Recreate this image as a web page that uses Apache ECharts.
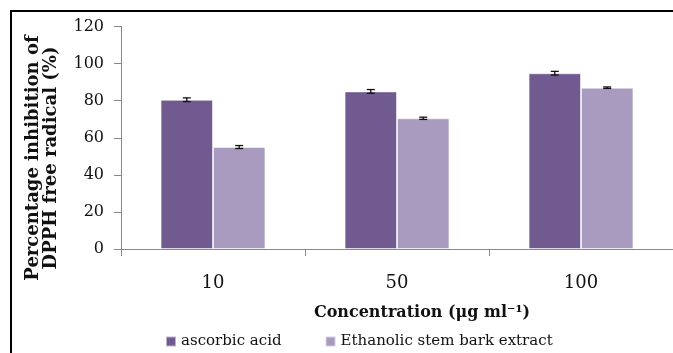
<!DOCTYPE html>
<html>
<head>
<meta charset="utf-8">
<script src="https://cdn.jsdelivr.net/npm/echarts@6/dist/echarts.min.js"></script>
<style>html,body{margin:0;padding:0;background:#fff;}#c{width:673px;height:353px;}</style>
</head>
<body>
<div id="c"></div>
<script>
var categories = ['10', '50', '100'];
var seriesNames = ['ascorbic acid', 'Ethanolic stem bark extract'];
var ascorbic = [80.5, 85, 94.8];
var ethanolic = [55, 70.5, 87];
var errAscorbic = [1.0, 1.0, 1.0];
var errEthanolic = [0.8, 0.6, 0.4];
var yTicks = [0, 20, 40, 60, 80, 100, 120];

var FONT = 'DejaVu Serif';
var colors = ['#715a90', '#a99abf'];
var CAT_GAP = 0.43;

function errSeries(values, errs, side) {
  return {
    type: 'custom',
    silent: true,
    z: 10,
    data: values.map(function (v, i) { return [i, v, errs[i]]; }),
    renderItem: function (params, api) {
      var i = api.value(0), v = api.value(1), e = api.value(2);
      var catW = api.size([1, 0])[0];
      var barW = catW * (1 - CAT_GAP) / 2;
      var off = side * barW / 2;
      var top = api.coord([i, v + e]);
      var bot = api.coord([i, v - e]);
      var x = top[0] + off;
      var cap = 4;
      var st = { stroke: '#111', lineWidth: 1.3 };
      return {
        type: 'group',
        children: [
          { type: 'line', shape: { x1: x, y1: top[1], x2: x, y2: bot[1] }, style: st },
          { type: 'line', shape: { x1: x - cap, y1: top[1], x2: x + cap, y2: top[1] }, style: st },
          { type: 'line', shape: { x1: x - cap, y1: bot[1], x2: x + cap, y2: bot[1] }, style: st }
        ]
      };
    }
  };
}

var chart = echarts.init(document.getElementById('c'));
chart.setOption({
  animation: false,
  backgroundColor: '#fff',
  grid: { left: 121, top: 26.5, bottom: 104, right: -3, containLabel: false },
  xAxis: {
    type: 'category',
    data: categories,
    axisLine: { lineStyle: { color: '#888', width: 1 } },
    axisTick: { show: true, length: 7, lineStyle: { color: '#888' } },
    axisLabel: { margin: 25, fontFamily: FONT, fontSize: 18, color: '#111' }
  },
  yAxis: {
    type: 'value',
    min: yTicks[0],
    max: yTicks[yTicks.length - 1],
    interval: 20,
    splitLine: { show: false },
    axisLine: { show: true, lineStyle: { color: '#888', width: 1 } },
    axisTick: { show: true, length: 7, lineStyle: { color: '#888' } },
    axisLabel: { margin: 17, fontFamily: FONT, fontSize: 16, color: '#111' }
  },
  legend: {
    data: seriesNames,
    left: 160,
    top: 329,
    itemWidth: 10,
    itemHeight: 10,
    itemGap: 43,
    icon: 'rect',
    textStyle: { fontFamily: FONT, fontSize: 15, color: '#111' }
  },
  series: [
    {
      name: seriesNames[0], type: 'bar', data: ascorbic,
      barGap: '0%', barCategoryGap: (CAT_GAP * 100) + '%',
      itemStyle: { color: colors[0], borderColor: 'rgba(255,255,255,0.55)', borderWidth: 1 }
    },
    {
      name: seriesNames[1], type: 'bar', data: ethanolic,
      barGap: '0%', barCategoryGap: (CAT_GAP * 100) + '%',
      itemStyle: { color: colors[1], borderColor: 'rgba(255,255,255,0.55)', borderWidth: 1 }
    },
    errSeries(ascorbic, errAscorbic, -1),
    errSeries(ethanolic, errEthanolic, 1)
  ],
  graphic: [
    { type: 'rect', shape: { x: 11, y: 11, width: 700, height: 400 }, style: { fill: 'none', stroke: '#000', lineWidth: 2 }, silent: true },
    { type: 'text', x: 42, y: 158, rotation: Math.PI / 2,
      style: { text: 'Percentage inhibition of\nDPPH free radical (%)', fontFamily: FONT, fontWeight: 'bold', fontSize: 18, lineHeight: 18, fill: '#111', align: 'center', verticalAlign: 'middle' } },
    { type: 'text', x: 422, y: 313,
      style: { text: 'Concentration (μg ml⁻¹)', fontFamily: FONT, fontWeight: 'bold', fontSize: 16, fill: '#111', align: 'center', verticalAlign: 'middle' } }
  ]
});
</script>
</body>
</html>
